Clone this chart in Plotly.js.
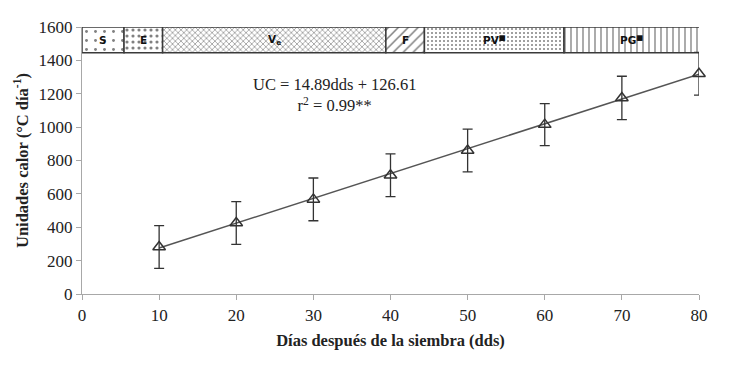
<!DOCTYPE html>
<html>
<head>
<meta charset="utf-8">
<script src="https://cdn.plot.ly/plotly-3.0.1.min.js"></script>
<style>html,body{margin:0;padding:0;background:#fff;}#chart{width:745px;height:392px;}</style>
</head>
<body>
<div id="chart"></div>
<script>
// Data
const dds = [10, 20, 30, 40, 50, 60, 70, 80];
const uc = [282, 425, 567, 712, 860, 1015, 1175, 1320];
const ucErr = [128, 128, 128, 128, 128, 126, 130, 128];
const slope = 14.89;
const intercept = 126.61;
const fitX = [10, 80];

const phaseLabels = ['S', 'E', 'V<sub>e</sub>', 'F', 'PV<sup>■</sup>', 'PG<sup>■</sup>'];
const phaseStart = [0, 5.45, 10.45, 39.4, 44.4, 62.5];
const phaseEnd = [5.45, 10.45, 39.4, 44.4, 62.5, 80.8];
const phaseBandLow = 1445;
const phaseBandHigh = 1600;

const xTicks = [0, 10, 20, 30, 40, 50, 60, 70, 80];
const yTicks = [0, 200, 400, 600, 800, 1000, 1200, 1400, 1600];

const bandMid = (phaseBandLow + phaseBandHigh) / 2;
const bandWidth = phaseBandHigh - phaseBandLow;

const traces = [
  {
    type: 'bar', orientation: 'h',
    y: phaseStart.map(() => bandMid),
    x: phaseStart.map((s, i) => phaseEnd[i] - s),
    base: phaseStart,
    width: phaseStart.map(() => bandWidth),
    marker: {
      color: '#ffffff',
      line: {color: '#3a3a3a', width: 1.5},
      pattern: {
        shape: ['.', '.', 'x', '/', '.', '|'],
        size: [9, 6, 4, 7, 4, 6],
        solidity: [0.08, 0.22, 0.3, 0.22, 0.2, 0.22],
        fgcolor: '#808080',
        bgcolor: '#ffffff'
      }
    },
    hoverinfo: 'skip', showlegend: false
  },
  {
    type: 'scatter', mode: 'lines',
    x: fitX, y: fitX.map(v => slope * v + intercept),
    line: {color: '#555555', width: 1.5},
    showlegend: false, hoverinfo: 'skip', cliponaxis: false
  },
  {
    type: 'scatter', mode: 'markers',
    x: dds, y: uc,
    marker: {symbol: 'triangle-up-open', size: 11, color: '#333333', line: {width: 1.5, color: '#333333'}},
    error_y: {type: 'data', array: ucErr, visible: true, color: '#333333', thickness: 1.3, width: 5},
    showlegend: false, cliponaxis: false
  }
];

const annotations = phaseLabels.map((t, i) => ({
  x: (phaseStart[i] + Math.min(phaseEnd[i], 80)) / 2,
  y: bandMid,
  xref: 'x', yref: 'y',
  text: '<b>' + t + '</b>',
  showarrow: false,
  font: {family: 'DejaVu Sans, Liberation Sans, sans-serif', size: 10.5, color: '#111'}
}));
annotations.push({
  x: 32.8, y: 1192, xref: 'x', yref: 'y',
  text: 'UC = ' + slope.toFixed(2) + 'dds + ' + intercept.toFixed(2) + '<br>r<sup>2</sup> = 0.99**',
  showarrow: false, align: 'center',
  font: {family: 'Liberation Serif, Times New Roman, serif', size: 16.5, color: '#222'}
});

const layout = {
  width: 745, height: 392,
  margin: {l: 82, r: 46, t: 27, b: 98},
  paper_bgcolor: '#fff', plot_bgcolor: '#fff',
  font: {family: 'Liberation Serif, Times New Roman, serif', size: 17, color: '#222'},
  barmode: 'overlay',
  showlegend: false,
  xaxis: {
    range: [0, 80], tickvals: xTicks, ticktext: xTicks.map(String),
    showgrid: false, zeroline: false, showline: true, linecolor: '#a8a8a8', linewidth: 1.2,
    ticks: 'outside', ticklen: 5, tickcolor: '#a8a8a8',
    title: {text: '<b>Días después de la siembra (dds)</b>', font: {size: 16.5}, standoff: 10}
  },
  yaxis: {
    range: [0, 1600], tickvals: yTicks, ticktext: yTicks.map(String),
    showgrid: false, zeroline: false, showline: true, linecolor: '#a8a8a8', linewidth: 1.2,
    ticks: 'outside', ticklen: 5, tickcolor: '#a8a8a8',
    title: {text: '<b>Unidades calor (°C día<sup>-1</sup>)</b>', font: {size: 16.5}, standoff: 5}
  },
  annotations: annotations
};

Plotly.newPlot('chart', traces, layout, {displayModeBar: false, staticPlot: true});
</script>
</body>
</html>
